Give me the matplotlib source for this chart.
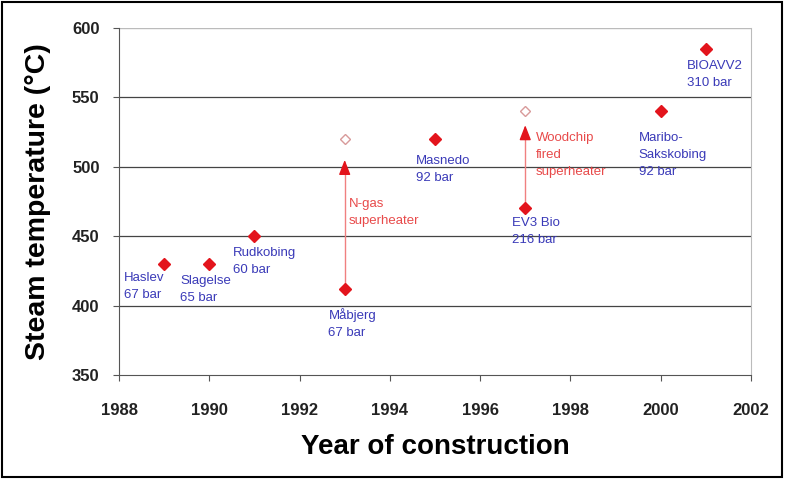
import matplotlib.pyplot as plt
from matplotlib.patches import Rectangle

# plant data: year, steam temperature, label
years = [1989, 1990, 1991, 1993, 1995, 1997, 2000, 2001]
temps = [430, 430, 450, 412, 520, 470, 540, 585]
names = ['Haslev\n67 bar', 'Slagelse\n65 bar', 'Rudkobing\n60 bar', 'Måbjerg\n67 bar',
         'Masnedo\n92 bar', 'EV3 Bio\n216 bar', 'Maribo-\nSakskobing\n92 bar', 'BIOAVV2\n310 bar']
# label anchor (upper left corner) in data coords
label_x = [1988.1, 1989.36, 1990.53, 1992.64, 1994.58, 1996.71, 1999.51, 2000.58]
label_y = [424, 422, 442, 398, 508.5, 464, 525, 577]

# superheater upgrades
sh_years = [1993, 1997]
sh_from = [412, 470]
sh_to = [520, 540]
sh_tip = [505, 530]
sh_names = ['N-gas\nsuperheater', 'Woodchip\nfired\nsuperheater']
sh_label_x = [1993.09, 1997.24]
sh_label_y = [477.5, 525]

plt.rcParams['font.family'] = ['Liberation Sans', 'DejaVu Sans']

fig = plt.figure(figsize=(7.85, 4.79), dpi=100)
ax = fig.add_axes([0.1516, 0.2171, 0.805, 0.7244])

red = '#e3141c'
blue = '#3a3ab8'
lred = '#e84a4a'

for i in range(len(sh_years)):
    # light shaft, solid red head
    ax.vlines(sh_years[i], sh_from[i], sh_tip[i] - 5, color='#f08080', lw=1.0, zorder=2)
    ax.annotate('', xy=(sh_years[i], sh_tip[i]), xytext=(sh_years[i], sh_tip[i] - 8),
                arrowprops=dict(arrowstyle='-|>,head_length=0.9,head_width=0.35',
                                color=red, lw=1.0, shrinkA=0, shrinkB=0),
                zorder=2)
    ax.plot(sh_years[i], sh_to[i], 'D', ms=5.5, mfc='white', mec='#d89a9a', mew=1.0, zorder=3)
    ax.text(sh_label_x[i], sh_label_y[i], sh_names[i], color=lred, fontsize=9.5,
            ha='left', va='top', linespacing=1.55)

ax.plot(years, temps, 'D', ms=6.5, color=red, mec=red, ls='none', zorder=4)

for i in range(len(years)):
    ax.text(label_x[i], label_y[i], names[i], color=blue, fontsize=9.5,
            ha='left', va='top', linespacing=1.55)

ax.set_xlim(1988, 2002)
ax.set_ylim(350, 600)
ax.set_xticks(range(1988, 2003, 2))
ax.set_yticks(range(350, 601, 50))
for y in [400, 450, 500, 550]:
    ax.axhline(y, color='#444444', lw=0.9, zorder=1)
ax.axhline(600, color='#bbbbbb', lw=1.0, zorder=1)

ax.spines['top'].set_visible(False)
ax.spines['right'].set_color('#bbbbbb')
ax.spines['left'].set_color('#555555')
ax.spines['bottom'].set_color('#555555')
ax.tick_params(axis='both', direction='out', length=4, color='#555555',
               labelsize=12, labelcolor='#222222')
ax.tick_params(axis='x', pad=16)
ax.tick_params(axis='y', pad=10)
for lab in ax.get_xticklabels() + ax.get_yticklabels():
    lab.set_fontweight('bold')

ax.set_xlabel('Year of construction', fontsize=20, fontweight='bold', labelpad=12)
ax.set_ylabel('Steam temperature (°C)', fontsize=20.5, fontweight='bold', labelpad=15)

fig.patches.append(Rectangle((0.003, 0.004), 0.993, 0.992, transform=fig.transFigure,
                             fill=False, ec='black', lw=1.5))

fig.savefig('out.png', dpi=100)
